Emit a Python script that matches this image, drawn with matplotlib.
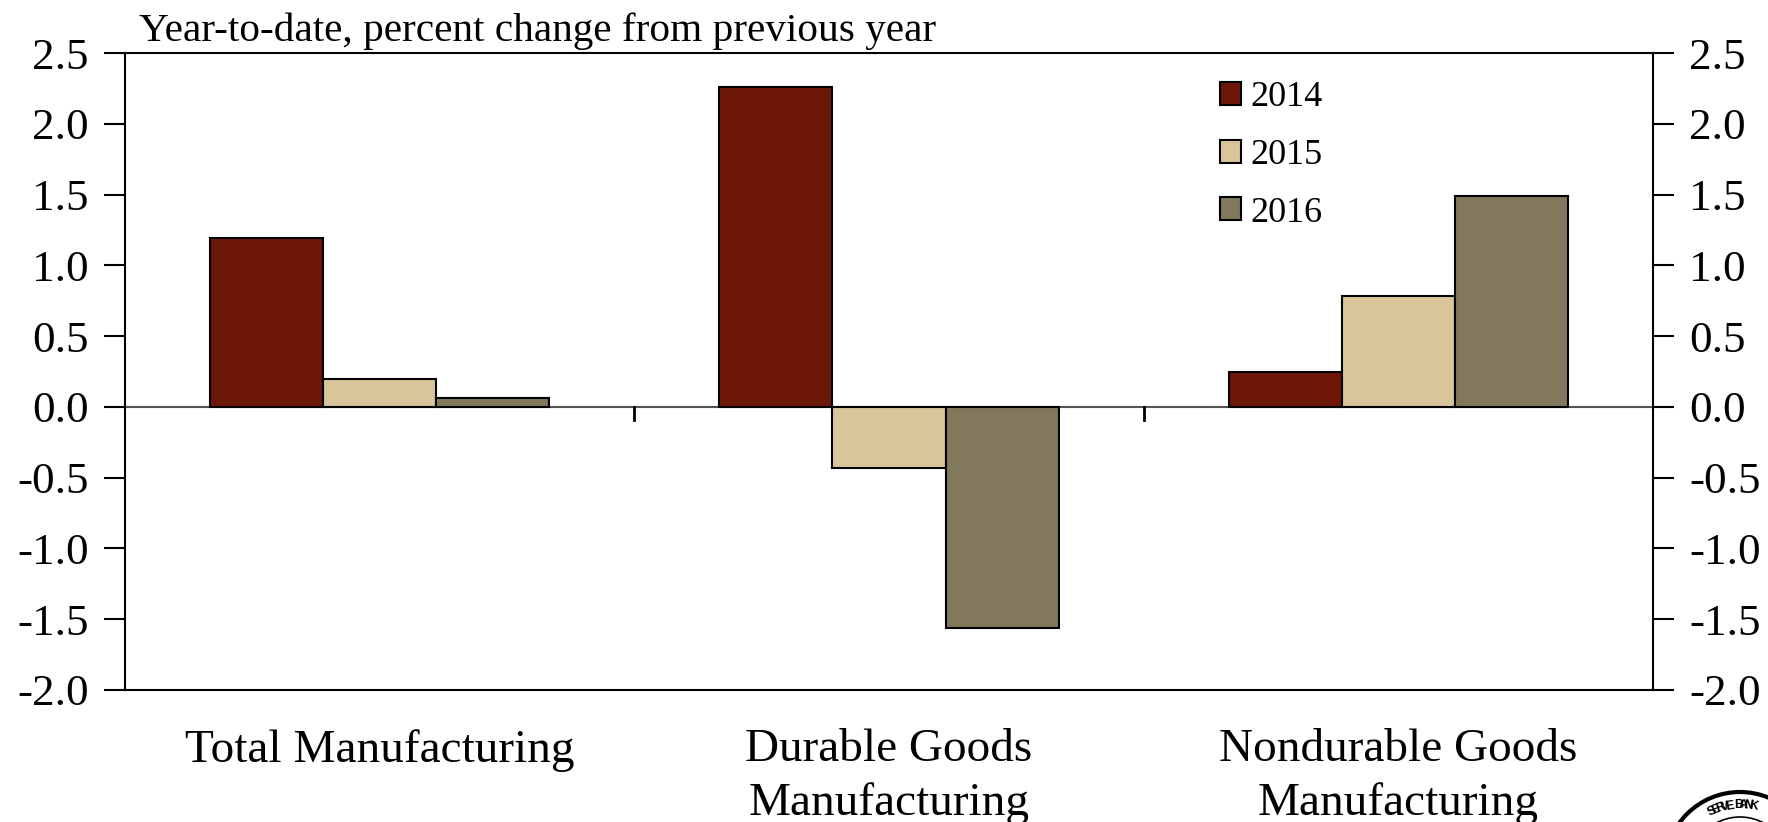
import numpy as np
import matplotlib
matplotlib.use("Agg")
import matplotlib.pyplot as plt
from matplotlib.patches import Circle

plt.rcParams["font.family"] = ["Liberation Serif", "DejaVu Serif"]

categories = ["Total Manufacturing", "Durable Goods\nManufacturing", "Nondurable Goods\nManufacturing"]
years = ["2014", "2015", "2016"]
vals_2014 = [1.19, 2.26, 0.25]
vals_2015 = [0.20, -0.43, 0.78]
vals_2016 = [0.06, -1.56, 1.49]
colors = ["#6d1709", "#d9c59a", "#82785c"]
yticks = [2.5, 2.0, 1.5, 1.0, 0.5, 0.0, -0.5, -1.0, -1.5, -2.0]

fig = plt.figure(figsize=(17.68, 8.22), dpi=100)
ax = fig.add_axes([0.0707, 0.1606, 0.8643, 0.7749])

x = np.arange(len(categories))
width = 2 / 9
for i, (vals, year) in enumerate(zip([vals_2014, vals_2015, vals_2016], years)):
    ax.bar(x + (i - 1) * width, vals, width, color=colors[i], edgecolor="black",
           linewidth=1.5, label=year, zorder=3)

ax.set_xlim(-0.5, 2.5)
ax.set_ylim(-2.0, 2.5)
ax.set_yticks(yticks)
ax.set_yticklabels([f"{t:.1f}" for t in yticks])
ax.tick_params(axis="y", which="both", direction="out", length=15, width=1.5,
               labelsize=32.5, pad=11, left=True, right=True, labelleft=True, labelright=True)

# zero line with category separators
ax.axhline(0, color="#555555", linewidth=1.5, zorder=2)
for b in [0.5, 1.5]:
    ax.plot([b, b], [0, -0.09], color="black", linewidth=2, zorder=2, clip_on=False)
ax.set_xticks([])
for xi, cat in zip(x, categories):
    ax.text(xi, -2.275, cat, ha="center", va="top", fontsize=34, linespacing=1.33,
            transform=ax.transData)

for s in ax.spines.values():
    s.set_linewidth(1.5)

ax.text(0.009, 1.005, "Year-to-date, percent change from previous year",
        transform=ax.transAxes, fontsize=29.7, ha="left", va="bottom")

ax.legend(loc="upper left", bbox_to_anchor=(0.707, 0.978), frameon=False, fontsize=26,
          handlelength=0.6, handleheight=0.6, handletextpad=0.25, labelspacing=0.68,
          borderaxespad=0)

# partial seal in the corner (inch coordinates)
cx, cy = 17.40, -0.45
for r, lw in [(0.75, 3.0), (0.50, 1.2)]:
    fig.patches.append(Circle((cx, cy), r, transform=fig.dpi_scale_trans,
                              fill=False, edgecolor="black", linewidth=lw))
seal_text = "SERVE BANK"
angles = np.linspace(117, 78, len(seal_text))
for ch, a in zip(seal_text, angles):
    t = np.deg2rad(a)
    fig.text(cx + 0.62 * np.cos(t), cy + 0.62 * np.sin(t), ch, transform=fig.dpi_scale_trans,
             fontsize=9, fontweight="bold", family="Liberation Sans",
             ha="center", va="center", rotation=a - 90)

fig.savefig("out.png", dpi=100)
